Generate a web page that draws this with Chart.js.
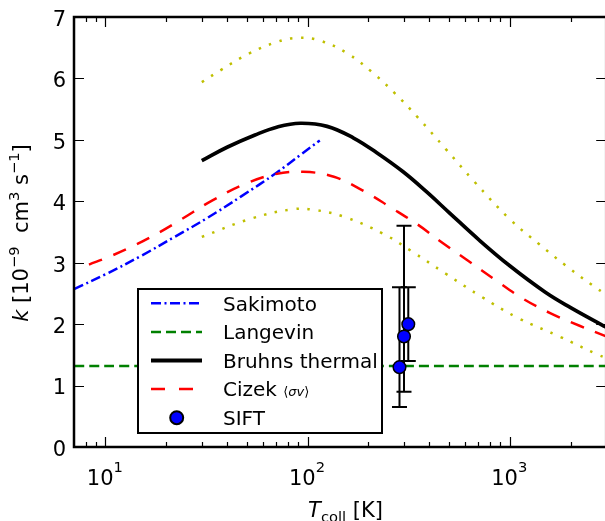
<!DOCTYPE html>
<html>
<head>
<meta charset="utf-8">
<script src="https://cdn.jsdelivr.net/npm/chart.js@4/dist/chart.umd.min.js"></script>
<style>
  html, body { margin: 0; padding: 0; background: #fff; overflow: hidden; }
  #wrap { position: relative; width: 614px; height: 521px; }
</style>
</head>
<body>
<div id="wrap"><canvas id="c"></canvas></div>
<script>
// Rate coefficient k (10^-9 cm^3 s^-1) versus collision temperature T (K)

// Sakimoto (dash-dot)
const tSakimoto = [7, 10, 15, 22, 32, 47, 70, 92.5, 115];
const kSakimoto = [2.57, 2.81, 3.11, 3.42, 3.73, 4.08, 4.46, 4.76, 4.99];

// Langevin (constant)
const tLangevin = [7, 3000];
const kLangevin = [1.32, 1.32];

// Bruhns thermal (solid)
const tBruhns = [30, 40, 55, 71, 92, 125, 169, 220, 297, 386, 500, 700, 1000, 1500, 2000, 3000];
const kBruhns = [4.66, 4.88, 5.08, 5.21, 5.27, 5.22, 5.03, 4.79, 4.48, 4.16, 3.82, 3.38, 2.95, 2.52, 2.27, 1.95];

// Bruhns upper / lower bounds (dotted)
const tUpper = [30, 37, 51, 70, 89, 114, 157, 209, 272, 350, 483, 664, 1000, 1400, 1900, 2570, 3000];
const kUpper = [5.94, 6.13, 6.40, 6.59, 6.66, 6.62, 6.41, 6.10, 5.75, 5.37, 4.85, 4.33, 3.71, 3.30, 2.95, 2.63, 2.48];
const tLower = [30, 52.8, 84.5, 108, 151, 237, 326, 483, 730, 1100, 1785, 2695, 3000];
const kLower = [3.42, 3.72, 3.87, 3.86, 3.75, 3.47, 3.19, 2.82, 2.44, 2.10, 1.79, 1.51, 1.45];

// Cizek <sigma v> (long dashes)
const tCizek = [8.3, 10.5, 14.1, 18.4, 23.6, 33.7, 49, 69, 95, 135, 189, 255, 351, 466, 630, 848, 1142, 1585, 2230, 3000];
const kCizek = [2.97, 3.10, 3.29, 3.49, 3.70, 4.01, 4.28, 4.44, 4.48, 4.40, 4.17, 3.91, 3.62, 3.32, 3.02, 2.72, 2.43, 2.18, 1.97, 1.80];

// SIFT measurements with asymmetric errors
const tSift = [285, 300, 315];
const kSift = [1.30, 1.80, 2.00];
const errLow = [0.65, 0.90, 0.60];
const errHigh = [1.30, 1.80, 0.60];

// Axis ticks
const xMajorTicks = [10, 100, 1000];
const xMajorExp = ['1', '2', '3'];
const xMinorTicks = [8, 9, 20, 30, 40, 50, 60, 70, 80, 90, 200, 300, 400, 500, 600, 700, 800, 900, 2000];
const yTicks = [0, 1, 2, 3, 4, 5, 6, 7];

const FONT = '"DejaVu Sans", "Liberation Sans", sans-serif';
const pts = (ts, ks) => ts.map((t, i) => ({ x: t, y: ks[i] }));
const font = (size, italic) => (italic ? 'italic ' : '') + size + 'px ' + FONT;

// Draw a run of text pieces (size, italic, vertical shift) starting at x, y
function runWidth(ctx, parts) {
  let w = 0;
  for (const p of parts) { ctx.font = font(p.size, p.italic); w += ctx.measureText(p.t).width; }
  return w;
}
function drawRun(ctx, parts, x, y) {
  for (const p of parts) {
    ctx.font = font(p.size, p.italic);
    ctx.fillText(p.t, x, y + (p.dy || 0));
    x += ctx.measureText(p.t).width;
  }
  return x;
}

const legendItems = [
  { kind: 'line', color: '#0000ff', width: 2.5, dash: [10, 3.5, 2, 3.5], text: [{ t: 'Sakimoto', size: 20 }] },
  { kind: 'line', color: '#008000', width: 2.5, dash: [10, 5], text: [{ t: 'Langevin', size: 20 }] },
  { kind: 'line', color: '#000000', width: 4, dash: [], text: [{ t: 'Bruhns thermal', size: 20 }] },
  { kind: 'line', color: '#ff0000', width: 2.5, dash: [14, 14], text: [
      { t: 'Cizek ', size: 20 }, { t: '\u27E8', size: 13 }, { t: '\u03C3v', size: 13, italic: true }, { t: '\u27E9', size: 13 }] },
  { kind: 'marker', text: [{ t: 'SIFT', size: 20 }] }
];

const errorBars = {
  id: 'errorBars',
  beforeDatasetDraw(chart, args) {
    if (args.meta.label !== 'SIFT') return;
    const { ctx, scales: { x, y } } = chart;
    ctx.save();
    ctx.strokeStyle = '#000';
    ctx.lineWidth = 2;
    tSift.forEach((t, i) => {
      const px = x.getPixelForValue(t);
      const y0 = y.getPixelForValue(kSift[i] - errLow[i]);
      const y1 = y.getPixelForValue(kSift[i] + errHigh[i]);
      ctx.beginPath();
      ctx.moveTo(px, y0); ctx.lineTo(px, y1);
      ctx.moveTo(px - 7.5, y0); ctx.lineTo(px + 7.5, y0);
      ctx.moveTo(px - 7.5, y1); ctx.lineTo(px + 7.5, y1);
      ctx.stroke();
    });
    ctx.restore();
  }
};

const frame = {
  id: 'frame',
  afterDraw(chart) {
    const { ctx, chartArea: a, scales: { x, y } } = chart;
    ctx.save();

    // legend box
    const lx = 138, ly = 289, lw = 244, lh = 144;
    ctx.fillStyle = '#fff';
    ctx.fillRect(lx, ly, lw, lh);
    ctx.strokeStyle = '#000';
    ctx.lineWidth = 2;
    ctx.strokeRect(lx, ly, lw, lh);
    legendItems.forEach((it, i) => {
      const cy = 303.3 + i * 28.6;
      if (it.kind === 'line') {
        ctx.save();
        ctx.strokeStyle = it.color;
        ctx.lineWidth = it.width;
        ctx.setLineDash(it.dash);
        ctx.beginPath();
        ctx.moveTo(151, cy); ctx.lineTo(202, cy);
        ctx.stroke();
        ctx.restore();
      } else {
        ctx.beginPath();
        ctx.arc(176.7, cy, 6.5, 0, Math.PI * 2);
        ctx.fillStyle = '#0000ff';
        ctx.fill();
        ctx.lineWidth = 2;
        ctx.strokeStyle = '#000';
        ctx.stroke();
      }
      ctx.fillStyle = '#000';
      ctx.textAlign = 'left';
      ctx.textBaseline = 'alphabetic';
      drawRun(ctx, it.text, 223, cy + 7.3);
    });

    // ticks (inward, all four sides)
    ctx.strokeStyle = '#000';
    ctx.lineWidth = 1.2;
    ctx.beginPath();
    xMajorTicks.forEach(v => {
      const px = Math.round(x.getPixelForValue(v)) + 0.5;
      ctx.moveTo(px, a.bottom); ctx.lineTo(px, a.bottom - 10);
      ctx.moveTo(px, a.top); ctx.lineTo(px, a.top + 10);
    });
    xMinorTicks.forEach(v => {
      const px = Math.round(x.getPixelForValue(v)) + 0.5;
      ctx.moveTo(px, a.bottom); ctx.lineTo(px, a.bottom - 5);
      ctx.moveTo(px, a.top); ctx.lineTo(px, a.top + 5);
    });
    yTicks.forEach(v => {
      const py = Math.round(y.getPixelForValue(v)) + 0.5;
      ctx.moveTo(a.left, py); ctx.lineTo(a.left + 10, py);
      ctx.moveTo(a.right, py); ctx.lineTo(a.right - 10, py);
    });
    ctx.stroke();

    // frame
    ctx.lineWidth = 2.5;
    ctx.strokeRect(a.left, a.top, a.right - a.left, a.bottom - a.top);

    // tick labels
    ctx.fillStyle = '#000';
    ctx.font = font(21);
    ctx.textAlign = 'right';
    ctx.textBaseline = 'alphabetic';
    yTicks.forEach(v => ctx.fillText(String(v), 66, y.getPixelForValue(v) + 8.8));

    ctx.textAlign = 'left';
    xMajorTicks.forEach((v, i) => {
      const parts = [{ t: '10', size: 21 }, { t: xMajorExp[i], size: 14.7, dy: -12.5 }];
      const w = runWidth(ctx, parts) + 1;
      drawRun(ctx, parts, x.getPixelForValue(v) - w / 2, 484.5);
    });

    // x title
    const xt = [{ t: 'T', size: 21, italic: true }, { t: 'coll', size: 14.7, dy: 4.5 }, { t: ' [K]', size: 21 }];
    const xw = runWidth(ctx, xt);
    drawRun(ctx, xt, (a.left + 611) / 2 - xw / 2 + 3, 517);

    // y title (rotated)
    const yt = [
      { t: 'k', size: 21, italic: true }, { t: ' [10', size: 21 }, { t: '\u22129', size: 14.7, dy: -8.5 },
      { t: '  cm', size: 21 }, { t: '3', size: 14.7, dy: -8.5 }, { t: ' s', size: 21 },
      { t: '\u22121', size: 14.7, dy: -8.5 }, { t: ']', size: 21 }
    ];
    ctx.save();
    ctx.translate(27.5, 233);
    ctx.rotate(-Math.PI / 2);
    const yw = runWidth(ctx, yt);
    drawRun(ctx, yt, -yw / 2, 0);
    ctx.restore();

    ctx.restore();
  }
};

const lineDs = (label, ts, ks, color, width, dash, order) => ({
  label, data: pts(ts, ks), borderColor: color, borderWidth: width, borderDash: dash,
  pointRadius: 0, fill: false, tension: 0.4, borderCapStyle: 'butt', order
});

new Chart(document.getElementById('c'), {
  type: 'line',
  data: {
    datasets: [
      {
        label: 'SIFT', data: pts(tSift, kSift), showLine: false,
        pointRadius: 6.3, pointBackgroundColor: '#0000ff', pointBorderColor: '#000', pointBorderWidth: 1.5,
        order: 0
      },
      lineDs('Sakimoto', tSakimoto, kSakimoto, '#0000ff', 2.5, [10, 3.5, 2, 3.5], 5),
      lineDs('Langevin', tLangevin, kLangevin, '#008000', 2.5, [10, 5], 4),
      lineDs('Bruhns thermal', tBruhns, kBruhns, '#000000', 3.7, [], 3),
      lineDs('upper', tUpper, kUpper, '#bfbf00', 2.5, [2.5, 8.5], 6),
      lineDs('lower', tLower, kLower, '#bfbf00', 2.5, [2.5, 8.5], 7),
      lineDs('Cizek', tCizek, kCizek, '#ff0000', 2.5, [14, 12], 2)
    ]
  },
  options: {
    responsive: true,
    maintainAspectRatio: false,
    devicePixelRatio: 1,
    animation: false,
    layout: { padding: { left: 74, right: 1, top: 17, bottom: 74 } },
    scales: {
      x: { type: 'logarithmic', min: 7, max: 3000, display: false },
      y: { type: 'linear', min: 0, max: 7, display: false }
    },
    plugins: { legend: { display: false }, tooltip: { enabled: false } }
  },
  plugins: [errorBars, frame]
});
</script>
</body>
</html>
